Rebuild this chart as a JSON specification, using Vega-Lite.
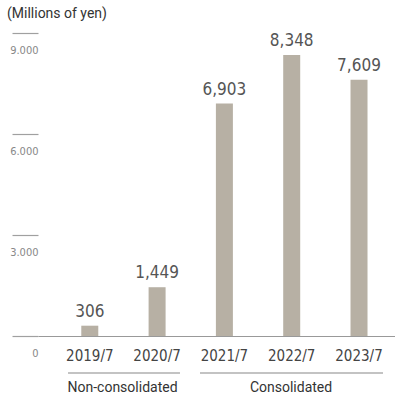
{
  "$schema": "https://vega.github.io/schema/vega-lite/v6.json",
  "width": 357,
  "height": 303,
  "autosize": {"type": "none"},
  "padding": {"left": 38, "top": 33, "right": 0, "bottom": 63},
  "title": {"text": "(Millions of yen)", "anchor": "start", "frame": "group", "dx": -31, "offset": 11, "fontSize": 14, "fontWeight": "normal", "font": "Roboto", "color": "#333333"},
  "config": {"view": {"stroke": null}},
  "resolve": {"scale": {"x": "independent"}},
  "layer": [
    {
      "data": {"values": [
        {"year": "2019/7", "value": 306},
        {"year": "2020/7", "value": 1449},
        {"year": "2021/7", "value": 6903},
        {"year": "2022/7", "value": 8348},
        {"year": "2023/7", "value": 7609}
      ]},
      "encoding": {
        "x": {"field": "year", "type": "nominal", "sort": null,
          "scale": {"paddingInner": 0, "paddingOuter": 0.152, "align": 0.886},
          "axis": {"title": null, "labelAngle": 0, "ticks": false, "domain": true, "domainColor": "#999999", "domainWidth": 1.2, "labelPadding": 12, "labelFontSize": 15, "labelFont": "DejaVu Sans Condensed", "labelColor": "#444444"}},
        "y": {"field": "value", "type": "quantitative",
          "scale": {"domain": [0, 9000], "nice": false},
          "axis": {"title": null, "values": [0, 3000, 6000, 9000], "grid": false, "domain": false, "tickSize": 26, "tickColor": "#a0a0a0", "tickWidth": 1.2, "labelAlign": "right", "labelBaseline": "top", "labelPadding": -26, "labelOffset": 11, "labelFontSize": 11, "labelFont": "DejaVu Sans Condensed", "labelColor": "#888888", "format": ",d", "labelExpr": "replace(datum.label, ',', '.')"}}
      },
      "layer": [
        {"mark": {"type": "bar", "width": 17, "color": "#b7b0a4"}},
        {"mark": {"type": "text", "baseline": "bottom", "dy": -5, "fontSize": 17, "font": "DejaVu Sans Condensed", "color": "#555555"},
         "encoding": {"text": {"field": "value", "type": "quantitative", "format": ",d"}}}
      ]
    },
    {
      "data": {"values": [
        {"group": "Non-consolidated", "start": -0.327, "end": 1.337, "mid": 0.483, "linepos": -1099, "textpos": -1545},
        {"group": "Consolidated", "start": 1.634, "end": 4.354, "mid": 2.987, "linepos": -1099, "textpos": -1545}
      ]},
      "layer": [
        {"mark": {"type": "rule", "color": "#888888", "strokeWidth": 1.2},
         "encoding": {
           "x": {"field": "start", "type": "quantitative", "scale": {"domain": [-0.773, 4.532], "nice": false, "zero": false}, "axis": null},
           "x2": {"field": "end"},
           "y": {"field": "linepos", "type": "quantitative"}
         }},
        {"mark": {"type": "text", "baseline": "middle", "fontSize": 14, "font": "Roboto", "color": "#333333"},
         "encoding": {
           "x": {"field": "mid", "type": "quantitative", "scale": {"domain": [-0.773, 4.532], "nice": false, "zero": false}, "axis": null},
           "y": {"field": "textpos", "type": "quantitative"},
           "text": {"field": "group"}
         }}
      ]
    }
  ]
}
